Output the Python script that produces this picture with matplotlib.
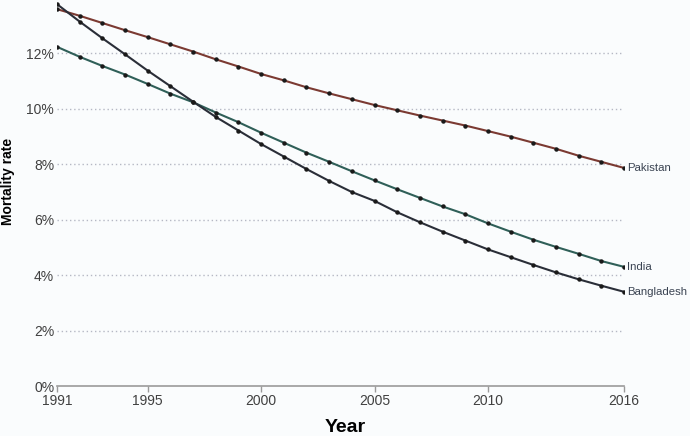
import matplotlib
matplotlib.use("Agg")
from matplotlib import pyplot as plt

# years and mortality rates (%)
years = list(range(1991, 2017))

pakistan = [13.60, 13.36, 13.10, 12.84, 12.59, 12.33, 12.07, 11.79, 11.53, 11.26,
            11.03, 10.78, 10.56, 10.35, 10.14, 9.95, 9.76, 9.58, 9.40, 9.20,
            9.00, 8.78, 8.56, 8.31, 8.09, 7.87]
india = [12.24, 11.88, 11.55, 11.24, 10.90, 10.55, 10.24, 9.87, 9.52, 9.14,
         8.78, 8.42, 8.09, 7.75, 7.42, 7.10, 6.79, 6.48, 6.20, 5.87,
         5.57, 5.28, 5.02, 4.77, 4.51, 4.30]
bangladesh = [13.78, 13.15, 12.55, 11.97, 11.38, 10.82, 10.26, 9.71, 9.22, 8.73,
              8.28, 7.83, 7.40, 7.00, 6.68, 6.27, 5.91, 5.57, 5.25, 4.93,
              4.65, 4.37, 4.10, 3.85, 3.62, 3.40]

xticks = [1991, 1995, 2000, 2005, 2010, 2016]
yticks = [0, 2, 4, 6, 8, 10, 12]

plt.rcParams['font.family'] = ['Liberation Sans', 'DejaVu Sans']

fig = plt.figure(figsize=(6.9, 4.36), dpi=100, facecolor='#fafcfd')
ax = fig.add_axes([57/690, 50/436, (624-57)/690, 386/436])
ax.set_facecolor('#fafcfd')

series = [("Pakistan", pakistan, '#7b3a32'),
          ("India", india, '#2f5f58'),
          ("Bangladesh", bangladesh, '#2a2e38')]

for name, vals, col in series:
    ax.plot(years, vals, color=col, lw=1.5, zorder=3)
    ax.plot(years, vals, 'o', color='#1a1a1a', ms=2.2, zorder=4)
    ax.text(years[-1] + 0.13, vals[-1], name, fontsize=8.2, color='#3a4352',
            va='center', ha='left', clip_on=False)

ax.set_xlim(1991, 2016)
ax.set_ylim(0, 13.93)

for y in yticks[1:]:
    ax.axhline(y, color='#b5b8c4', lw=1, ls=(0, (1, 2)), zorder=1)

ax.set_yticks(yticks)
ax.set_yticklabels([f"{y}%" for y in yticks])
ax.set_xticks(xticks)
ax.set_xticklabels([str(x) for x in xticks])

for s in ['top', 'right', 'left']:
    ax.spines[s].set_visible(False)
ax.spines['bottom'].set_color('#9a9a9a')
ax.spines['bottom'].set_linewidth(1.2)

ax.tick_params(axis='y', length=0, pad=2, labelsize=10, labelcolor='#404040')
ax.tick_params(axis='x', length=4, width=1, color='#9a9a9a', pad=2,
               labelsize=10, labelcolor='#404040')

fig.text(0.5, 0.02, "Year", ha='center', va='center', fontsize=14, fontweight='bold')
fig.text(0.012, 0.583, "Mortality rate", rotation=90, ha='center', va='center',
         fontsize=10, fontweight='bold')

fig.savefig("out.png", dpi=100, facecolor=fig.get_facecolor())
